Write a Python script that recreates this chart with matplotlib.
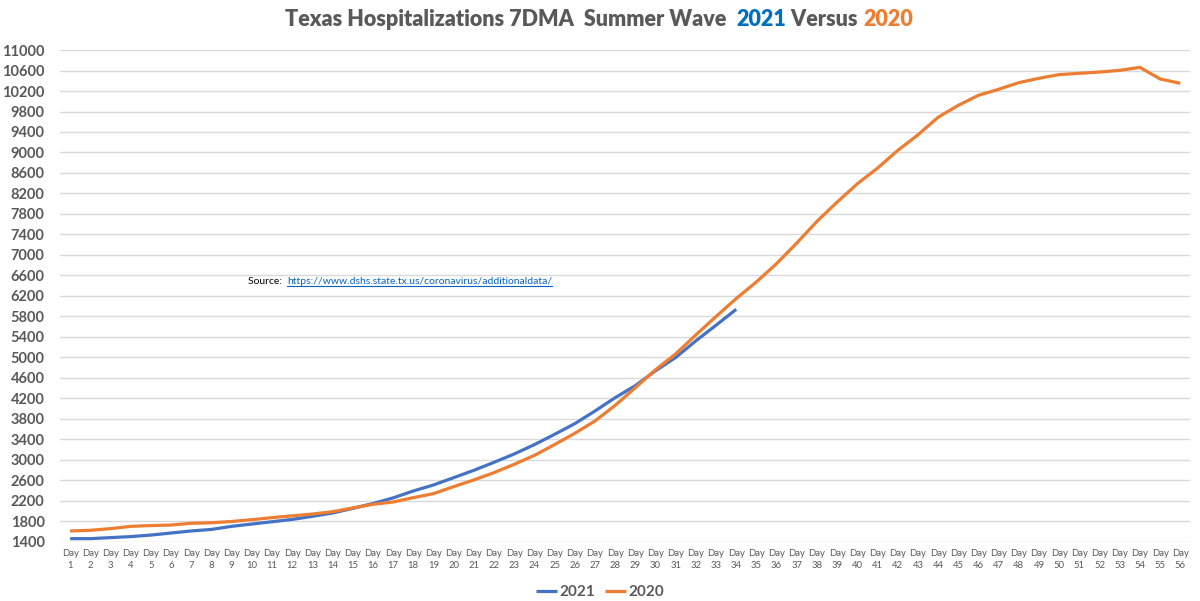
import matplotlib
matplotlib.use("Agg")
import matplotlib.pyplot as plt
from matplotlib.lines import Line2D

days = list(range(1, 57))
day_labels = ["Day\n%d" % d for d in days]

# 7-day moving average of hospitalizations
hosp_2021 = [1465, 1465, 1485, 1505, 1535, 1575, 1615, 1645, 1705, 1750,
             1795, 1840, 1900, 1965, 2055, 2150, 2260, 2395, 2512, 2655,
             2798, 2954, 3117, 3299, 3500, 3708, 3955, 4215, 4450, 4740,
             5000, 5325, 5630, 5940]
hosp_2020 = [1615, 1628, 1660, 1705, 1720, 1730, 1765, 1775, 1800, 1835,
             1875, 1910, 1945, 1990, 2065, 2135, 2180, 2265, 2343, 2480,
             2610, 2753, 2915, 3090, 3300, 3520, 3760, 4065, 4410, 4760,
             5070, 5440, 5800, 6150, 6475, 6832, 7234, 7656, 8033, 8390,
             8695, 9040, 9343, 9687, 9920, 10116, 10233, 10363, 10448, 10520,
             10545, 10570, 10603, 10661, 10435, 10350]
y_ticks = list(range(1400, 11001, 400))

blue = "#4472C4"
orange = "#ED7D31"
gray = "#595959"

plt.rcParams['font.family'] = ['Lato', 'DejaVu Sans']

fig = plt.figure(figsize=(12, 6.01), dpi=100)
ax = fig.add_axes([0.05, 0.0982, 0.942, 0.8186])

ax.plot(days[:len(hosp_2021)], hosp_2021, color=blue, lw=2.3, label="2021",
        solid_capstyle='butt')
ax.plot(days, hosp_2020, color=orange, lw=2.3, label="2020",
        solid_capstyle='butt')

ax.set_xlim(0.5, 56.5)
ax.set_ylim(1400, 11000)
ax.set_yticks(y_ticks)
ax.set_yticklabels([str(v) for v in y_ticks], fontsize=10.5,
                   fontweight='bold', color=gray)
ax.set_xticks(days)
ax.set_xticklabels(day_labels, fontsize=6.8, color=gray, linespacing=1.5)
ax.tick_params(axis='both', length=0)
ax.tick_params(axis='y', pad=11)
ax.tick_params(axis='x', pad=5)
ax.grid(axis='y', color="#D9D9D9", lw=1)
ax.set_axisbelow(True)
for s in ax.spines.values():
    s.set_visible(False)

leg = fig.legend(loc='center', bbox_to_anchor=(0.5, 1 - 592 / 601), ncol=2,
                 frameon=False, handlelength=1.4, columnspacing=0.6,
                 handletextpad=0.15,
                 prop={'size': 11, 'weight': 'bold'})
for t in leg.get_texts():
    t.set_color(gray)

# title pieces in different colours
fig.canvas.draw()
r = fig.canvas.get_renderer()
pieces = [("Texas Hospitalizations 7DMA  Summer Wave  ", gray),
          ("2021", "#0070C0"), (" Versus ", gray), ("2020", orange)]
title_y = 1 - 19 / 601
texts = []
for s, c in pieces:
    t = fig.text(0, title_y, s, fontsize=15.5, fontweight='heavy', color=c,
                 va='center', ha='left')
    texts.append(t)
widths = [t.get_window_extent(r).width for t in texts]
x = (1200 - sum(widths)) / 2 - 1
for t, w in zip(texts, widths):
    t.set_x(x / 1200)
    x += w

# source note with underlined link
src = fig.text(248 / 1200, 1 - 281 / 601, "Source:  ", fontsize=7.5,
               color="black", va='center', ha='left')
w = src.get_window_extent(r).width
url = fig.text((248 + w) / 1200, 1 - 281 / 601,
               "https://www.dshs.state.tx.us/coronavirus/additionaldata/",
               fontsize=7.5, color="#0563C1", va='center', ha='left')
bb = url.get_window_extent(r)
fig.add_artist(Line2D([bb.x0 / 1200, bb.x1 / 1200],
                      [(bb.y0 - 0.5) / 601, (bb.y0 - 0.5) / 601],
                      color="#0563C1", lw=0.8))

fig.savefig("out.png", dpi=100)
